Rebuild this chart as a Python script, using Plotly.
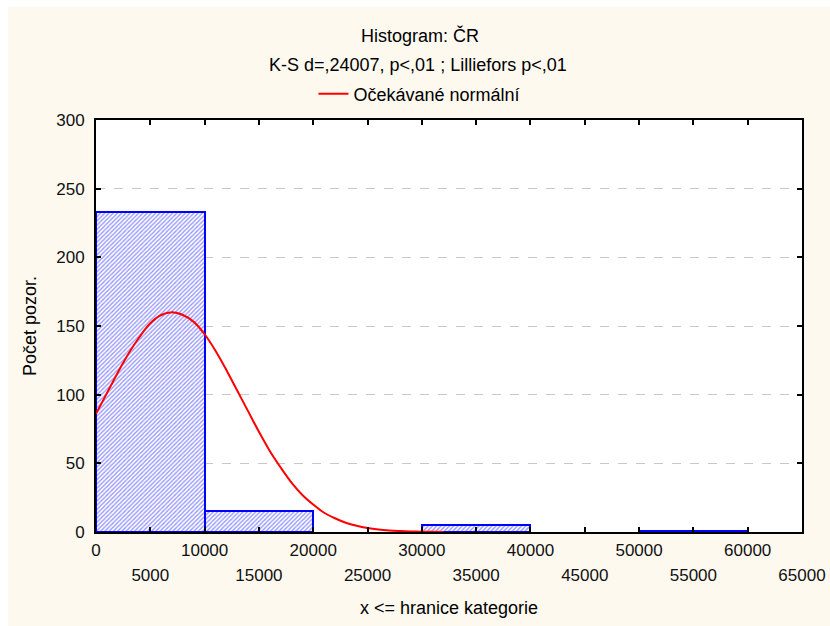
import plotly.graph_objects as go

# ---- data ----
bin_left = [0, 10000, 20000, 30000, 40000, 50000]
bin_width = 10000
counts = [233, 15, 0, 5, 0, 1]

curve_x = [0, 1000, 2000, 3000, 4000, 5000, 6000, 7000, 8000, 9000, 10000,
           11000, 12000, 13000, 14000, 15000, 16000, 17000, 18000, 19000, 20000,
           21000, 22000, 23000, 24000, 25000, 26000, 27000, 28000, 29000, 30000,
           31000, 32000]
curve_y = [86, 101, 116, 130, 142, 152, 158, 160, 158, 153, 144,
           132, 118, 103, 88, 73, 59, 47, 36, 27, 20,
           14, 10, 6.7, 4.5, 2.9, 1.8, 1.1, 0.7, 0.4, 0.2,
           0.1, 0.05]

x_ticks = list(range(0, 65001, 5000))
x_ticks_row1 = [v for v in x_ticks if (v // 5000) % 2 == 0]
x_ticks_row2 = [v for v in x_ticks if (v // 5000) % 2 == 1]
y_ticks = [0, 50, 100, 150, 200, 250, 300]

title1 = "Histogram: ČR"
title2 = "K-S d=,24007, p<,01 ; Lilliefors p<,01"
legend_name = "Očekávané normální"
x_title = "x <= hranice kategorie"
y_title = "Počet pozor."

FONT = "Liberation Sans, Arial, sans-serif"
CREAM = "#FDF9EF"

fig = go.Figure()
fig.add_trace(go.Bar(
    x=bin_left,
    y=[c if c > 0 else None for c in counts],
    width=bin_width,
    offset=0,
    marker=dict(
        color="white",
        line=dict(color="#0000FF", width=2),
        pattern=dict(shape="/", fgcolor="#3030ff", bgcolor="white", size=3, solidity=0.45),
    ),
    showlegend=False,
    hoverinfo="skip",
))
fig.add_trace(go.Scatter(
    x=curve_x, y=curve_y, mode="lines",
    line=dict(color="#FF0000", width=2, shape="spline"),
    name=legend_name,
))
# invisible helper so the second label row axis is drawn
fig.add_trace(go.Scatter(
    x=[0], y=[0], xaxis="x2", mode="markers", marker=dict(opacity=0),
    showlegend=False, hoverinfo="skip",
))

fig.update_layout(
    width=830, height=626,
    margin=dict(l=96, r=28, t=120, b=94, autoexpand=False),
    paper_bgcolor=CREAM,
    plot_bgcolor="white",
    font=dict(family=FONT, size=18, color="black"),
    bargap=0,
    showlegend=True,
    legend=dict(orientation="h", x=0.308, xanchor="left", y=1.063, yanchor="middle",
                bgcolor="rgba(0,0,0,0)", font=dict(size=18), itemwidth=30),
    xaxis=dict(
        range=[0, 65000], tickvals=x_ticks_row1, ticktext=[str(v) for v in x_ticks_row1],
        ticks="", showline=True, linecolor="black", linewidth=2, mirror=True,
        showgrid=False, zeroline=False, ticklabelstandoff=2, automargin=False,
        tickfont=dict(size=17, color="#111111"),
    ),
    xaxis2=dict(
        range=[0, 65000], overlaying="x", anchor="y", side="bottom",
        tickvals=x_ticks, ticktext=["" if v in x_ticks_row1 else str(v) for v in x_ticks],
        ticks="inside", ticklen=5, tickwidth=2, tickcolor="black",
        showline=False, mirror="allticks", automargin=False,
        showgrid=False, zeroline=False, ticklabelstandoff=31,
        title=dict(text=x_title, standoff=17, font=dict(size=18)),
        tickfont=dict(size=17, color="#111111"),
    ),
    yaxis=dict(
        range=[0, 300], tickvals=y_ticks,
        ticks="inside", ticklen=5, tickwidth=2, tickcolor="black",
        showline=True, linecolor="black", linewidth=2, mirror="ticks",
        showgrid=True, gridcolor="#C8C8C8", griddash="dash", gridwidth=1,
        zeroline=False, ticklabelstandoff=6, automargin=False,
        title=dict(text=y_title, standoff=15, font=dict(size=18)),
        tickfont=dict(size=17, color="#111111"),
    ),
    annotations=[
        dict(text=title1, xref="paper", yref="paper", x=(420 - 96) / 706, y=1.2063,
             xanchor="center", yanchor="middle", showarrow=False, font=dict(size=18)),
        dict(text=title2, xref="paper", yref="paper", x=(418 - 96) / 706, y=1.1335,
             xanchor="center", yanchor="middle", showarrow=False, font=dict(size=18)),
    ],
    shapes=[
        dict(type="rect", xref="paper", yref="paper", x0=-0.2, x1=(8 - 96) / 706,
             y0=-0.3, y1=1.4, fillcolor="white", line=dict(width=0), layer="above"),
        dict(type="rect", xref="paper", yref="paper", x0=-0.2, x1=1.2,
             y0=(532 - 7) / 412, y1=1.4, fillcolor="white", line=dict(width=0), layer="above"),
    ],
)

fig.write_html("out.html")
